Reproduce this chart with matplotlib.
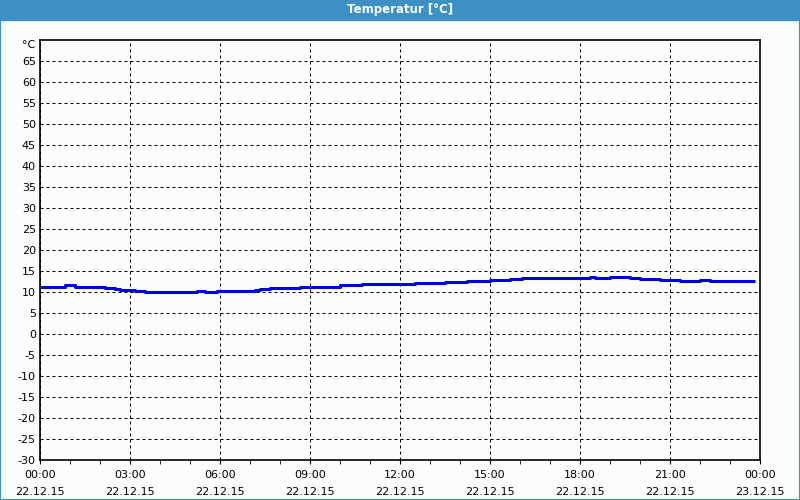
import pandas as pd
import matplotlib
matplotlib.use("Agg")
import matplotlib.pyplot as plt
import matplotlib.dates as mdates
from matplotlib.patches import Rectangle
from matplotlib.transforms import blended_transform_factory

plt.rcParams["axes.unicode_minus"] = False

# hours since 22.12.15 00:00 and temperature in degC (step changes)
hours = [0, 0.83, 1.17, 2.17, 2.5, 2.67, 3.17, 3.5, 5.23, 5.5, 5.9, 7.17, 7.33,
         7.67, 8.67, 10.0, 10.73, 12.5, 13.5, 14.23, 15.0, 15.67, 16.07, 18.33,
         18.5, 19.0, 19.67, 20.0, 20.67, 21.33, 22.0, 22.33, 23.83]
temps = [11.3, 11.6, 11.3, 11.0, 10.8, 10.55, 10.3, 10.1, 10.3, 10.1, 10.3, 10.55,
         10.8, 11.0, 11.3, 11.6, 11.8, 12.05, 12.3, 12.55, 12.8, 13.0, 13.25, 13.5,
         13.25, 13.5, 13.25, 13.0, 12.8, 12.55, 12.8, 12.55, 12.55]
yticks = list(range(-30, 70, 5))

start = pd.Timestamp("2015-12-22 00:00")
end = pd.Timestamp("2015-12-23 00:00")
times = [start + pd.Timedelta(hours=h) for h in hours]

bg = "#fbfdfb"
blue_bar = "#3c90c6"

fig = plt.figure(figsize=(8, 5), dpi=100, facecolor=bg)
ax = fig.add_axes([0.05, 0.08, 0.90, 0.84], facecolor=bg)

ax.plot(times, temps, color="#0000dd", lw=2.2, drawstyle="steps-post",
        solid_capstyle="butt", zorder=3)

ax.set_xlim(start, end)
ax.set_ylim(-30, 70)
ax.set_yticks(yticks)

ax.xaxis.set_major_locator(mdates.HourLocator(byhour=range(0, 24, 3)))
ax.xaxis.set_minor_locator(mdates.HourLocator())
ax.xaxis.set_major_formatter(mdates.DateFormatter("%H:%M\n%d.%m.%y"))

ax.grid(True, which="major", color="black", lw=0.72, linestyle=(0, (3, 3)))
for s in ax.spines.values():
    s.set_color("black")
    s.set_linewidth(1.2)

ax.tick_params(axis="y", length=0, pad=3, labelsize=8)
ax.tick_params(axis="x", which="both", length=3, direction="out", labelsize=8, pad=4)
for lbl in ax.get_xticklabels():
    lbl.set_linespacing(1.9)

trans = blended_transform_factory(ax.transAxes, ax.transData)
ax.text(-0.006, 68.8, "°C", transform=trans, ha="right", va="center", fontsize=8)

# title bar and border
fig.patches.append(Rectangle((0, 0.96), 1, 0.04, transform=fig.transFigure,
                             color=blue_bar, zorder=0))
fig.patches.append(Rectangle((0.0006, 0.001), 0.9988, 0.998, transform=fig.transFigure,
                             fill=False, edgecolor=blue_bar, lw=1.5, zorder=1))
fig.text(0.5, 0.98, "Temperatur [°C]", color="white", fontsize=8.5,
         fontweight="bold", ha="center", va="center")

fig.savefig("out.png", dpi=100, facecolor=bg)
